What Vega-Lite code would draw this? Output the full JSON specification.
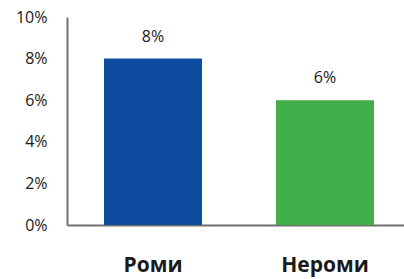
{
  "$schema": "https://vega.github.io/schema/vega-lite/v6.json",
  "autosize": "none",
  "padding": {"left": 67, "top": 17, "right": 0, "bottom": 54},
  "width": 344,
  "height": 208,
  "background": "white",
  "config": {"view": {"stroke": null}, "font": "Open Sans"},
  "data": {"values": [
    {"group": "Роми", "value": 0.08},
    {"group": "Нероми", "value": 0.06}
  ]},
  "encoding": {
    "x": {"field": "group", "type": "nominal", "sort": null,
      "scale": {"paddingInner": 0.43, "paddingOuter": 0.215},
      "axis": {"title": null, "labelAngle": 0, "ticks": false, "domainColor": "#707070", "domainWidth": 2,
        "labelFont": "Open Sans", "labelFontWeight": "bold", "labelFontSize": 21, "labelColor": "#1a1a1a", "labelPadding": 29}},
    "y": {"field": "value", "type": "quantitative",
      "scale": {"domain": [0, 0.1], "nice": false},
      "axis": {"title": null, "format": ".0%", "values": [0, 0.02, 0.04, 0.06, 0.08, 0.1], "ticks": false, "grid": false,
        "domainColor": "#707070", "domainWidth": 2, "labelFontSize": 16, "labelColor": "#1a1a1a", "labelPadding": 20}}
  },
  "layer": [
    {"mark": {"type": "bar"},
     "encoding": {"color": {"field": "group", "type": "nominal", "legend": null,
       "scale": {"domain": ["Роми", "Нероми"], "range": ["#0d4c9f", "#41ae4a"]}}}},
    {"mark": {"type": "text", "dy": -17, "baseline": "alphabetic", "fontSize": 16, "color": "#1a1a1a"},
     "encoding": {"text": {"field": "value", "type": "quantitative", "format": ".0%"}}}
  ]
}
